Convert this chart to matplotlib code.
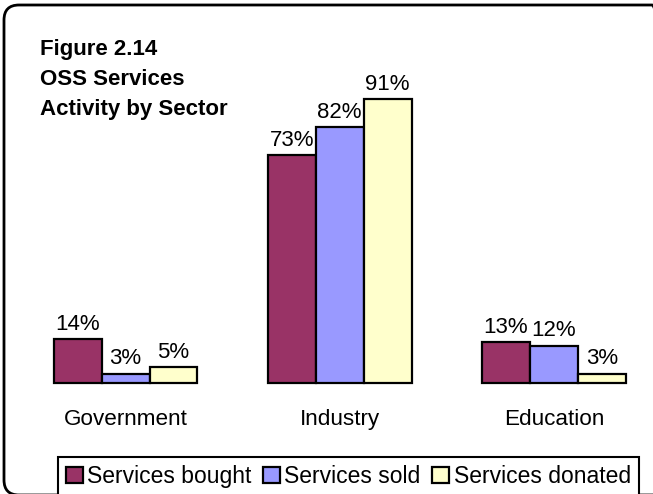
import matplotlib
matplotlib.use("Agg")
import matplotlib.pyplot as plt
import numpy as np
from matplotlib.patches import FancyBboxPatch
from matplotlib.transforms import IdentityTransform

plt.rcParams['font.family'] = ['Liberation Sans', 'DejaVu Sans']

# Chart data
categories = ["Government", "Industry", "Education"]
series_names = ["Services bought", "Services sold", "Services donated"]
bought = [14, 73, 13]
sold = [3, 82, 12]
donated = [5, 91, 3]
title_lines = ["Figure 2.14", "OSS Services", "Activity by Sector"]

colors = ["#993366", "#9999FF", "#FFFFCC"]

W, H = 653, 494
fig = plt.figure(figsize=(W / 100, H / 100), dpi=100)
fig.patch.set_facecolor("white")

# Plot area (pixel-based placement)
ax = fig.add_axes([29.1 / W, (H - 383) / H, 621.3 / W, 312 / H])
ax.set_xlim(-0.45, 2.45)
ax.set_ylim(0, 100)
ax.axis("off")

x = np.arange(len(categories))
bw = 0.224
for i, (vals, name, col) in enumerate(zip([bought, sold, donated], series_names, colors)):
    bars = ax.bar(x + (i - 1) * bw, vals, width=bw, color=col, edgecolor="black",
                  linewidth=1.6, label=name, clip_on=False)
    ax.bar_label(bars, labels=[f"{v}%" for v in vals], padding=3, fontsize=16,
                 color="black")

for xi, cat in zip(x, categories):
    ax.text(xi, -36 / 312, cat, ha="center", va="center", fontsize=16.2,
            transform=ax.get_xaxis_transform())

# Title block
for k, line in enumerate(title_lines):
    fig.text(40.5 / W, 1 - (55 + 30 * k) / H, line, fontsize=16, fontweight="bold",
             ha="left", va="baseline")

# Legend
leg = fig.legend(loc="upper left", bbox_to_anchor=(58 / W, 1 - 457 / H),
                 bbox_transform=fig.transFigure, ncol=3, fontsize=16.5,
                 frameon=True, fancybox=False, shadow=False, framealpha=1,
                 handlelength=0.75, handleheight=0.75, handletextpad=0.18,
                 columnspacing=0.5, borderpad=0.35, borderaxespad=0)
leg.get_frame().set_edgecolor("black")
leg.get_frame().set_linewidth(1.5)

# Rounded chart border
border = FancyBboxPatch((4, -1), 663, 490, boxstyle="round,pad=0,rounding_size=15",
                        transform=IdentityTransform(), facecolor="none",
                        edgecolor="black", linewidth=2)
fig.patches.append(border)

fig.savefig("out.png", dpi=100, facecolor="white")
